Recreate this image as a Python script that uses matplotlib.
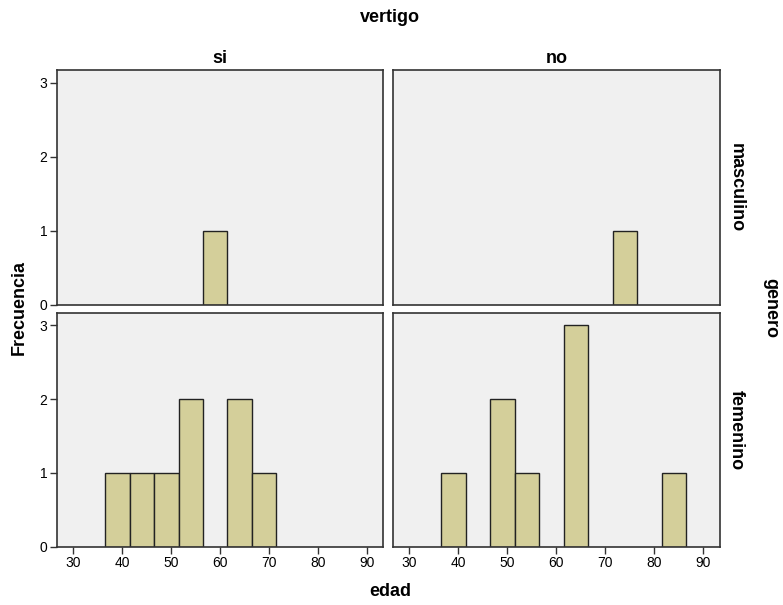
import matplotlib.pyplot as plt

plt.rcParams['font.family'] = ['Liberation Sans', 'DejaVu Sans']

# histogram bins (edad), width 5
bin_centers = [39, 44, 49, 54, 59, 64, 69, 74, 79, 84]
bin_width = 5

# counts per panel
si_masculino = [0, 0, 0, 0, 1, 0, 0, 0, 0, 0]
no_masculino = [0, 0, 0, 0, 0, 0, 0, 1, 0, 0]
si_femenino = [1, 1, 1, 2, 0, 2, 1, 0, 0, 0]
no_femenino = [1, 0, 2, 1, 0, 3, 0, 0, 0, 1]

col_labels = ['si', 'no']
row_labels = ['masculino', 'femenino']
xticks = [30, 40, 50, 60, 70, 80, 90]
yticks = [0, 1, 2, 3]

panels = [[si_masculino, no_masculino], [si_femenino, no_femenino]]

fig = plt.figure(figsize=(7.83, 6.05), dpi=100)
W, H = 783, 605
col_x = [(57.3, 383.3), (393.3, 720.0)]
row_y = [(70.0, 305.0), (312.7, 546.7)]

bar_color = '#d4cf9a'
bg = '#f0f0f0'

for r in range(2):
    for c in range(2):
        x0, x1 = col_x[c]
        y0, y1 = row_y[r]
        ax = fig.add_axes([x0 / W, 1 - y1 / H, (x1 - x0) / W, (y1 - y0) / H])
        ax.set_facecolor(bg)
        counts = panels[r][c]
        xs = [x for x, n in zip(bin_centers, counts) if n > 0]
        ns = [n for n in counts if n > 0]
        ax.bar(xs, ns, width=bin_width, color=bar_color,
               edgecolor='#222222', linewidth=1.0)
        ax.set_xlim(26.7, 93.4)
        ax.set_ylim(0, 3.17)
        for s in ax.spines.values():
            s.set_color('#333333')
            s.set_linewidth(1.2)
        ax.tick_params(direction='out', length=5, width=1, color='#333333',
                       labelsize=10, pad=2)
        if r == 1:
            ax.set_xticks(xticks)
        else:
            ax.set_xticks([])
        if c == 0:
            ax.set_yticks(yticks)
        else:
            ax.set_yticks([])
        if r == 0:
            ax.set_title(col_labels[c], fontsize=13, fontweight='bold', pad=5)
        if c == 1:
            ax.text(1.05, 0.5, row_labels[r], transform=ax.transAxes,
                    rotation=-90, ha='center', va='center',
                    fontsize=13, fontweight='bold')

fig.text(390 / W, 1 - 17 / H, 'vertigo', ha='center', va='center',
         fontsize=13, fontweight='bold')
fig.text(390 / W, 1 - 592 / H, 'edad', ha='center', va='center',
         fontsize=13, fontweight='bold')
fig.text(19 / W, 1 - 308 / H, 'Frecuencia', ha='center', va='center',
         rotation=90, fontsize=13, fontweight='bold')
fig.text(771 / W, 1 - 308 / H, 'genero', ha='center', va='center',
         rotation=-90, fontsize=13, fontweight='bold')

fig.savefig('out.png', dpi=100)
